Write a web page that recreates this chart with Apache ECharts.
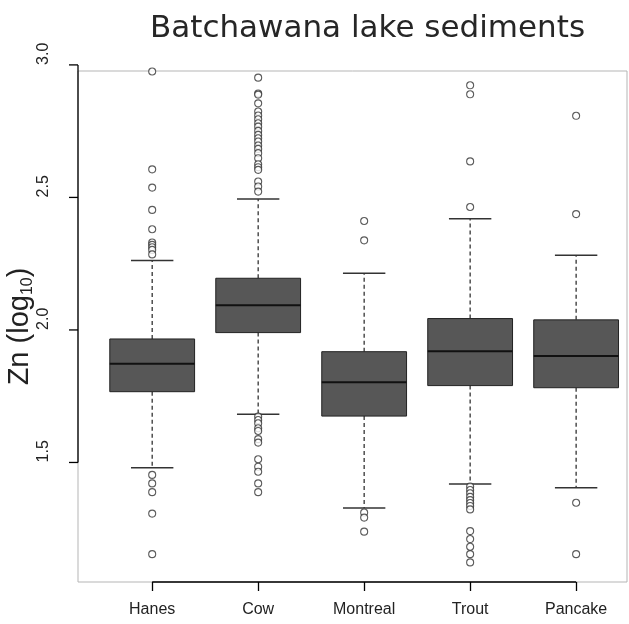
<!DOCTYPE html>
<html><head><meta charset="utf-8">
<script src="https://cdn.jsdelivr.net/npm/echarts@6/dist/echarts.min.js"></script>
<style>html,body{margin:0;padding:0;background:#fff}#c{width:629px;height:624px}</style>
</head><body><div id="c"></div>
<script>
const categories = ['Hanes', 'Cow', 'Montreal', 'Trout', 'Pancake'];
const whiskerLow  = [1.480, 1.682, 1.328, 1.419, 1.405];
const q1          = [1.767, 1.990, 1.675, 1.790, 1.782];
const median      = [1.872, 2.093, 1.803, 1.920, 1.902];
const q3          = [1.966, 2.195, 1.918, 2.043, 2.038];
const whiskerHigh = [2.262, 2.494, 2.214, 2.420, 2.282];

const outliersHanes = [2.975, 2.606, 2.537, 2.453, 2.380, 2.330, 2.321, 2.312, 2.302, 2.285,
  1.453, 1.421, 1.388, 1.307, 1.154];
const outliersCow = [2.952, 2.892, 2.888, 2.855, 2.824, 2.809, 2.795, 2.780, 2.767, 2.751, 2.736,
  2.723, 2.711, 2.696, 2.683, 2.667, 2.648, 2.625, 2.614, 2.604, 2.560, 2.541, 2.522,
  1.673, 1.660, 1.648, 1.629, 1.619, 1.588, 1.575, 1.512, 1.484, 1.465, 1.421, 1.388];
const outliersMontreal = [2.411, 2.338, 1.311, 1.292, 1.239];
const outliersTrout = [2.923, 2.889, 2.636, 2.464,
  1.409, 1.396, 1.384, 1.370, 1.358, 1.347, 1.336, 1.323, 1.241, 1.211, 1.182, 1.154, 1.123];
const outliersPancake = [2.808, 2.437, 1.348, 1.154];
const outliers = [outliersHanes, outliersCow, outliersMontreal, outliersTrout, outliersPancake];

const yTickValues = [1.5, 2.0, 2.5, 3.0];
const yTickLabels = ['1.5', '2.0', '2.5', '3.0'];
const yMin = 1.049, yMax = 2.977;
const xMin = 0.3, xMax = 5.48;

const boxData = categories.map((c, i) => [i + 1, whiskerLow[i], q1[i], median[i], q3[i], whiskerHigh[i]]);
const outlierData = [];
outliers.forEach((arr, i) => arr.forEach(v => outlierData.push([i + 1, v])));

function renderBox(params, api) {
  const x = api.value(0);
  const pLo = api.coord([x, api.value(1)]);
  const pQ1 = api.coord([x, api.value(2)]);
  const pMed = api.coord([x, api.value(3)]);
  const pQ3 = api.coord([x, api.value(4)]);
  const pHi = api.coord([x, api.value(5)]);
  const bw = api.size([0.8, 0])[0];
  const cx = pMed[0], half = bw / 2, capHalf = bw / 4;
  const dash = { stroke: '#333', lineWidth: 1.3, lineDash: [4, 3] };
  const cap = { stroke: '#333', lineWidth: 1.5 };
  return { type: 'group', children: [
    { type: 'line', shape: { x1: cx, y1: pQ3[1], x2: cx, y2: pHi[1] }, style: dash },
    { type: 'line', shape: { x1: cx, y1: pQ1[1], x2: cx, y2: pLo[1] }, style: dash },
    { type: 'line', shape: { x1: cx - capHalf, y1: pHi[1], x2: cx + capHalf, y2: pHi[1] }, style: cap },
    { type: 'line', shape: { x1: cx - capHalf, y1: pLo[1], x2: cx + capHalf, y2: pLo[1] }, style: cap },
    { type: 'rect', shape: { x: cx - half, y: pQ3[1], width: bw, height: pQ1[1] - pQ3[1] },
      style: { fill: '#575757', stroke: '#222', lineWidth: 1 } },
    { type: 'line', shape: { x1: cx - half, y1: pMed[1], x2: cx + half, y2: pMed[1] },
      style: { stroke: '#111', lineWidth: 2 } }
  ]};
}

const chart = echarts.init(document.getElementById('c'), null, { renderer: 'canvas' });
chart.setOption({
  animation: false,
  backgroundColor: '#fff',
  title: {
    text: 'Batchawana lake sediments',
    left: 145, top: 8,
    textStyle: { fontFamily: 'DejaVu Sans', fontSize: 31, fontWeight: 'normal', color: '#262626' }
  },
  grid: { left: 78, top: 71, right: 2, bottom: 42, outerBoundsMode: 'none', containLabel: false,
    show: true, borderColor: '#b5b5b5', borderWidth: 1, backgroundColor: 'transparent' },
  xAxis: {
    type: 'value', min: xMin, max: xMax,
    axisLine: { show: false },
    splitLine: { show: false },
    axisTick: { show: true, length: 9, customValues: [1, 2, 3, 4, 5], lineStyle: { color: '#000', width: 1.3 } },
    axisLabel: {
      customValues: [1, 2, 3, 4, 5],
      formatter: v => categories[Math.round(v) - 1],
      margin: 20, fontSize: 16, color: '#222', fontFamily: 'Liberation Sans'
    }
  },
  yAxis: {
    type: 'value', min: yMin, max: yMax,
    axisLine: { show: false }, axisTick: { show: false }, axisLabel: { show: false },
    splitLine: { show: false },
    name: '{a|Zn (log}{b|10}{a|)}',
    nameLocation: 'middle', nameRotate: 90, nameGap: 42,
    nameTextStyle: {
      rich: {
        a: { fontFamily: 'Liberation Sans', fontSize: 29, color: '#222' },
        b: { fontFamily: 'Liberation Sans', fontSize: 16, color: '#222', padding: [16, 0, 0, 0] }
      }
    }
  },
  series: [
    { type: 'custom', renderItem: renderBox, data: boxData, encode: { x: 0, y: [1, 2, 3, 4, 5] }, silent: true },
    { type: 'scatter', data: outlierData, symbol: 'circle', symbolSize: 7, clip: false,
      itemStyle: { color: '#fff', borderColor: '#333', borderWidth: 1.1 }, silent: true }
  ]
});

const toPx = (x, y) => chart.convertToPixel({ gridIndex: 0 }, [x, y]);
const gfx = [];
const yTop = toPx(xMin, yTickValues[yTickValues.length - 1]);
const yBot = toPx(xMin, yTickValues[0]);
gfx.push({ type: 'line', shape: { x1: yTop[0], y1: yTop[1], x2: yBot[0], y2: yBot[1] }, style: { stroke: '#000', lineWidth: 1.3 } });
yTickValues.forEach((v, i) => {
  const p = toPx(xMin, v);
  gfx.push({ type: 'line', shape: { x1: p[0] - 9, y1: p[1], x2: p[0], y2: p[1] }, style: { stroke: '#000', lineWidth: 1.3 } });
  gfx.push({ type: 'text', x: p[0] - 34, y: p[1], rotation: Math.PI / 2,
    style: { text: yTickLabels[i], font: '16px "Liberation Sans"', fill: '#222', align: 'left', verticalAlign: 'middle' } });
});
const xL = toPx(1, yMin), xR = toPx(categories.length, yMin);
gfx.push({ type: 'line', shape: { x1: xL[0], y1: xL[1], x2: xR[0], y2: xR[1] }, style: { stroke: '#000', lineWidth: 1.5 } });
chart.setOption({ graphic: gfx });
</script></body></html>
